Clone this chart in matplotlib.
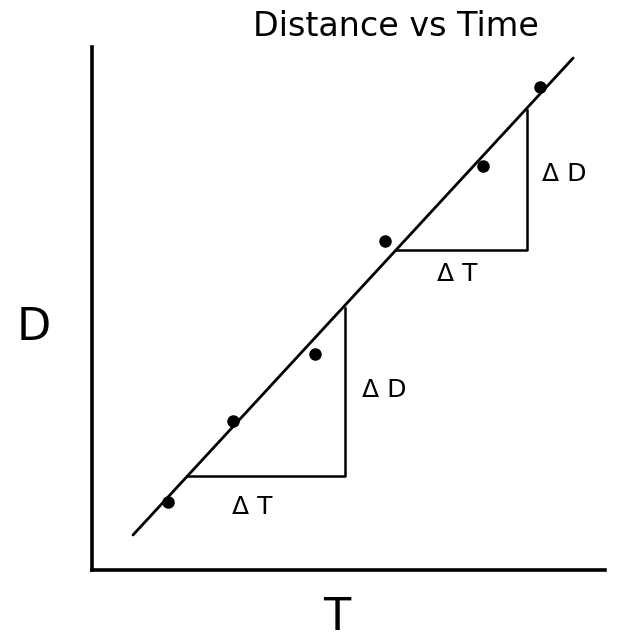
import matplotlib
matplotlib.use("Agg")
import matplotlib.pyplot as plt

# measured points (time, distance) in arbitrary units
t_pts = [1.48, 2.75, 4.35, 5.71, 7.62, 8.73]
d_pts = [1.30, 2.84, 4.13, 6.29, 7.73, 9.24]

# best-fit line end points
t_fit = [0.80, 9.38]
d_fit = [0.67, 9.79]

# slope triangles: (t_start, t_end, d_start, d_end)
triangles = [(1.87, 4.93, 1.79, 5.01),
             (5.93, 8.48, 6.11, 8.80)]
# delta labels (text, t, d)
delta_labels = [("\u0394 T", 3.12, 1.20), ("\u0394 D", 5.69, 3.45),
                ("\u0394 T", 7.12, 5.66), ("\u0394 D", 9.20, 7.58)]

W, H = 621, 642
fig = plt.figure(figsize=(W / 100, H / 100), dpi=100)
ax = fig.add_axes([92 / W, (H - 570) / H, (605 - 92) / W, (570 - 47) / H])
ax.set_xlim(0, 10)
ax.set_ylim(0, 10)

ax.plot(t_fit, d_fit, color="black", lw=2.0, solid_capstyle="round")
ax.plot(t_pts, d_pts, "o", color="black", markersize=8)

for t0, t1, d0, d1 in triangles:
    ax.plot([t0, t1, t1], [d0, d0, d1], color="black", lw=1.8)

for txt, t, d in delta_labels:
    ax.text(t, d, txt, ha="center", va="center", fontsize=18)

for s in ["top", "right"]:
    ax.spines[s].set_visible(False)
for s in ["left", "bottom"]:
    ax.spines[s].set_linewidth(2.6)
ax.set_xticks([])
ax.set_yticks([])

fig.text(396 / W, 1 - 26 / H, "Distance vs Time", ha="center", va="center", fontsize=24)
fig.text(34 / W, 1 - 327 / H, "D", ha="center", va="center", fontsize=32)
fig.text(337 / W, 1 - 618 / H, "T", ha="center", va="center", fontsize=32)

fig.savefig("out.png", dpi=100, facecolor="white")
